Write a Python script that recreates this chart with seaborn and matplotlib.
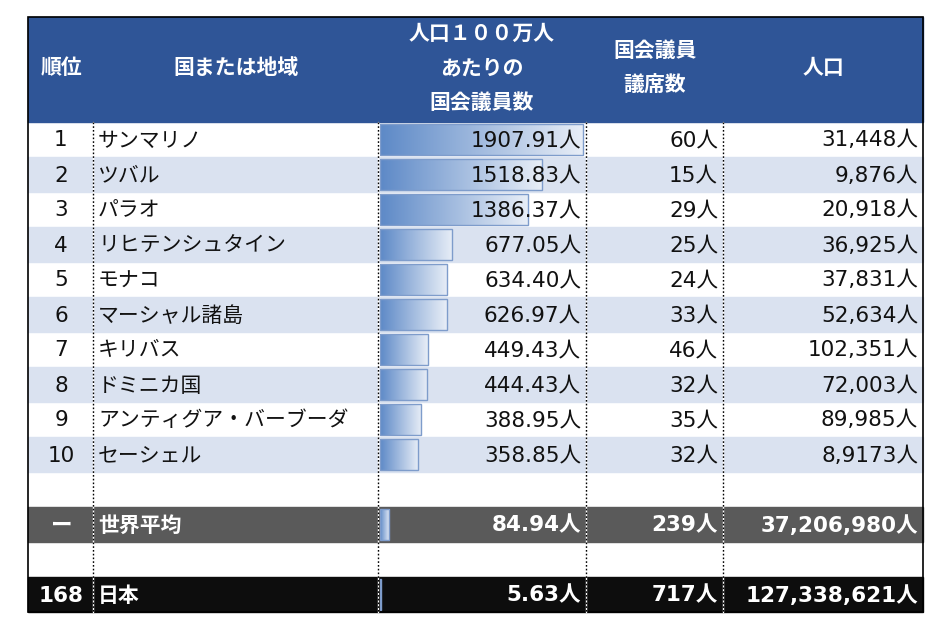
import pandas as pd
import numpy as np
import matplotlib.pyplot as plt
from matplotlib.colors import LinearSegmentedColormap
from matplotlib.patches import Rectangle
import seaborn as sns

sns.set_theme(style="white")
plt.rcParams["font.family"] = ["Noto Sans CJK JP", "DejaVu Sans"]

# Data

ranks = ["1", "2", "3", "4", "5", "6", "7", "8", "9", "10"]
countries = ["サンマリノ", "ツバル", "パラオ", "リヒテンシュタイン", "モナコ",
             "マーシャル諸島", "キリバス", "ドミニカ国", "アンティグア・バーブーダ", "セーシェル"]
per_million = [1907.91, 1518.83, 1386.37, 677.05, 634.40,
               626.97, 449.43, 444.43, 388.95, 358.85]
seats = [60, 15, 29, 25, 24, 33, 46, 32, 35, 32]
population = ["31,448", "9,876", "20,918", "36,925", "37,831",
              "52,634", "102,351", "72,003", "89,985", "8,9173"]

world_label = "世界平均"
world_per_million = 84.94
world_seats = 239
world_population = "37,206,980"

japan_rank = "168"
japan_label = "日本"
japan_per_million = 5.63
japan_seats = 717
japan_population = "127,338,621"

header_cols = ["順位", "国または地域", "人口１００万人\nあたりの\n国会議員数", "国会議員\n議席数", "人口"]

# Layout (pixels)

W, H = 952, 630
left, right, top = 28, 923, 17
row_h = 35
header_h = 105
body_top = top + header_h
n_rows = 14
bottom = body_top + n_rows * row_h
col_lines = [93, 378, 586, 723]

jp_font = ["Noto Sans CJK JP", "DejaVu Sans"]
num_font = ["DejaVu Sans", "Noto Sans CJK JP"]

row_order = [f"r{i}" for i in range(n_rows)]
bar_df = pd.DataFrame({
    "row": row_order[:10] + [row_order[11], row_order[13]],
    "value": per_million + [world_per_million, japan_per_million],
})

fig = plt.figure(figsize=(W / 100, H / 100), dpi=100)


def pixel_axes(z):
    a = fig.add_axes([0, 0, 1, 1], zorder=z)
    a.set_xlim(0, W)
    a.set_ylim(H, 0)
    a.axis("off")
    a.patch.set_alpha(0)
    return a


# Backgrounds

bg = pixel_axes(0)
bg.add_patch(Rectangle((left, top), right - left, header_h, color="#2F5597"))
for i in range(10):
    if i % 2 == 1:
        bg.add_patch(Rectangle((left, body_top + i * row_h), right - left, row_h, color="#DAE2F0"))
bg.add_patch(Rectangle((left, body_top + 11 * row_h), right - left, row_h, color="#5A5A5A"))
bg.add_patch(Rectangle((left, body_top + 13 * row_h), right - left, row_h, color="#0D0D0D"))

# Data bars

bax = fig.add_axes([380 / W, (H - bottom) / H, 205 / W, (bottom - body_top) / H], zorder=1)
bax.patch.set_alpha(0)
sns.barplot(data=bar_df, x="value", y="row", order=row_order, orient="h",
            width=0.86, color="#6A93CC", ax=bax)
bax.axis("off")

cmap = LinearSegmentedColormap.from_list("bar", ["#5D89C7", "#E8EEF7"])
grad = np.linspace(0, 1, 256).reshape(1, -1)
for p in list(bax.patches):
    x0, y0 = p.get_x(), p.get_y()
    w, h = p.get_width(), p.get_height()
    p.set_facecolor("none")
    p.set_edgecolor("#7E9CCB")
    p.set_linewidth(1)
    p.set_zorder(3)
    im = bax.imshow(grad, cmap=cmap, aspect="auto", extent=(x0, x0 + w, y0 + h, y0),
                    zorder=2, interpolation="bilinear")
    im.set_clip_path(p)
bax.set_xlim(0, max(per_million) * 205 / 203)
bax.set_ylim(n_rows - 0.5, -0.5)

# Grid lines and text

ax = pixel_axes(2)
for x in col_lines:
    ax.plot([x, x], [body_top, bottom], color="white", lw=1)
    ax.plot([x, x], [body_top, bottom], color="black", lw=1, ls=(0, (1.2, 1.5)))
ax.add_patch(Rectangle((left, top), right - left, bottom - top, fill=False,
                       edgecolor="black", lw=1.2))

hdr = dict(color="white", fontsize=15, fontweight="bold", ha="center", va="center", family=jp_font)
ax.text(61, 68, header_cols[0], **hdr)
ax.text(236, 68, header_cols[1], **hdr)
for k, line in enumerate(header_cols[2].split("\n")):
    ax.text(482, 33 + k * 34.5, line, **hdr)
for k, line in enumerate(header_cols[3].split("\n")):
    ax.text(655, 50 + k * 35, line, **hdr)
ax.text(823, 68, header_cols[4], **hdr)


def row_y(i):
    return body_top + i * row_h + row_h / 2 + 1


def draw_row(y, rk, name, pm, st, pop, color, weight):
    num = dict(fontsize=15.5, va="center", color=color, fontweight=weight, family=num_font)
    ax.text(61, y, rk, ha="center", **num)
    ax.text(98, y, name, ha="left", va="center", fontsize=15, color=color,
            fontweight=weight, family=jp_font)
    ax.text(581, y, f"{pm:.2f}人", ha="right", **num)
    ax.text(718, y, f"{st}人", ha="right", **num)
    ax.text(918, y, f"{pop}人", ha="right", **num)


for i in range(10):
    draw_row(row_y(i), ranks[i], countries[i], per_million[i], seats[i], population[i],
             "#111111", "normal")
draw_row(row_y(11), "ー", world_label, world_per_million, world_seats, world_population,
         "white", "bold")
draw_row(row_y(13), japan_rank, japan_label, japan_per_million, japan_seats, japan_population,
         "white", "bold")

fig.savefig("out.png", dpi=100)
